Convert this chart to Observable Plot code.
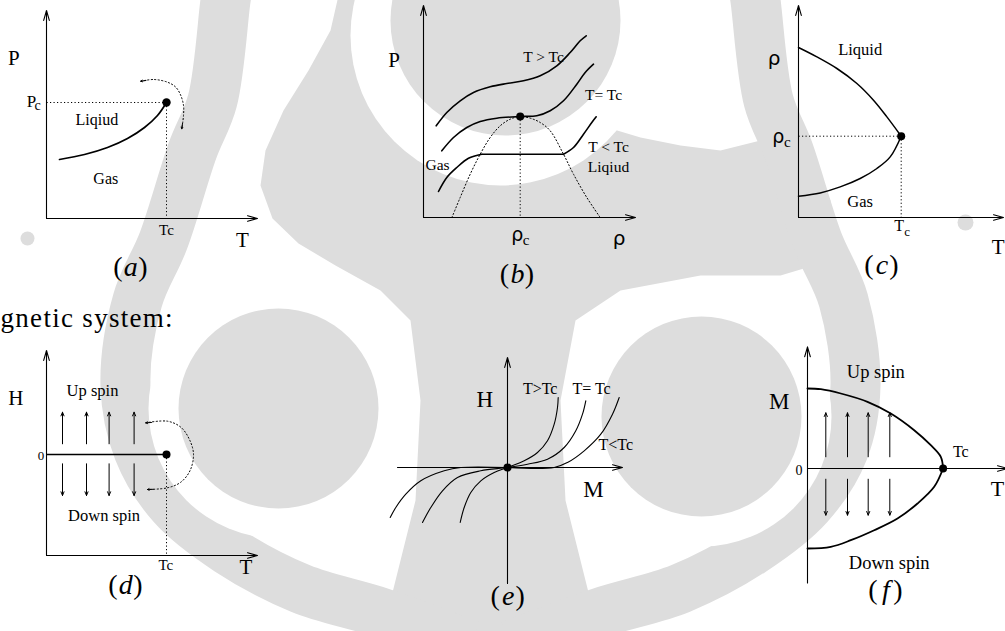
<!DOCTYPE html>
<html>
<head>
<meta charset="utf-8">
<script src="https://cdn.jsdelivr.net/npm/d3@7"></script>
<script src="https://cdn.jsdelivr.net/npm/@observablehq/plot@0.6"></script>
<style>
  html, body { margin: 0; padding: 0; background: #fff; }
  #page { position: relative; width: 1005px; height: 631px; overflow: hidden; }
  #page svg { position: absolute; overflow: visible; }
  #page svg.logo text { letter-spacing: 1.3px; }
</style>
</head>
<body>
<div id="page"></div>
<script>
const SERIF = "Liberation Serif";
const SANS = "DejaVu Sans";
const INK = "#000";
const WASH = "#dddddd";
const U = 10; // pixels per schematic unit inside every panel

// ---------- (a) P–T plane of a fluid ----------
const aAxisTop = 20.8, aAxisRight = 21.1;
const aCrit = [12.0, 11.6];                     // (Tc, Pc)
const aBoundary = [[1.3,5.9],[3.8,6.4],[6.1,7.1],[8.1,8.0],[9.8,9.1],[11.1,10.3],[12.0,11.6]];
const aDetour = [[9.43,13.73],[10.73,13.9],[12.1,13.63],[12.93,13.13],[13.43,12.3],[13.7,11.3],[13.7,10.3],[13.53,8.97]];
const aLabels = [
  {text: "Liqiud", x: 5.03, y: 9.9},
  {text: "Gas", x: 5.93, y: 4.0}
];

// ---------- (b) P–ρ isotherms ----------
const bAxisTop = 21.2, bAxisRight = 21.2;
const bCrit = [9.67, 10.1];                     // (ρc, Pc)
const bCoexistence = [[2.84,0],[3.67,2.0],[4.67,4.33],[5.67,6.33],[6.67,8.0],[7.67,9.17],[8.67,9.83],[9.67,10.1],
  [10.67,9.93],[11.67,9.5],[12.67,8.67],[14.0,6.33],[15.0,4.33],[16.33,2.0],[17.67,0]];
const bAbove = [[1.27,9.17],[2.33,10.5],[3.67,11.67],[5.0,12.5],[6.67,13.07],[8.33,13.4],[10.0,13.67],
  [11.67,14.17],[13.33,15.17],[14.67,16.5],[15.67,17.67],[16.27,18.17]];
const bCritical = [[1.83,6.67],[3.0,8.0],[4.33,9.0],[5.67,9.6],[7.33,9.93],[9.67,10.1],[11.33,10.17],
  [12.67,10.67],[14.0,11.67],[15.33,13.33],[16.17,14.5],[17.0,15.33]];
const bBelowGas = [[1.5,2.6],[2.33,4.0],[3.33,5.0],[4.5,5.93],[5.83,6.33]];
const bBelowLiquid = [[14.0,6.33],[15.0,7.0],[16.0,8.33],[16.83,9.5],[17.27,10.07]];
const bLabels = [
  {text: "T > Tc", x: 12.0, y: 16.0},
  {text: "T= Tc", x: 18.0, y: 12.23},
  {text: "T < Tc", x: 18.5, y: 7.0},
  {text: "Liqiud", x: 18.5, y: 5.0},
  {text: "Gas", x: 1.4, y: 5.27}
];

// ---------- (c) ρ–T coexistence curve ----------
const cAxisTop = 21.2, cAxisRight = 20.5;
const cCrit = [10.27, 8.13];                    // (Tc, ρc)
const cLiquid = [[0,17.0],[1.84,16.06],[3.84,14.9],[5.84,13.4],[7.5,11.73],[8.84,10.06],[10.27,8.13]];
const cGas = [[0,2.13],[2.17,2.46],[4.17,3.06],[6.17,3.9],[7.84,4.9],[9.17,6.06],[10.27,8.13]];
const cLabels = [
  {text: "Liquid", x: 6.17, y: 16.73},
  {text: "Gas", x: 6.17, y: 1.56}
];

// ---------- (d) H–T plane of a magnet ----------
const dAxisTop = 10.4, dAxisBottom = -10.1, dAxisRight = 21.1;
const dTc = 12.0;
const dSpinT = [1.6, 4.0, 6.26, 8.76];
const dUp = [1.07, 4.23], dDown = [-0.93, -4.1];
const dDetour = [[9.93,3.17],[12.1,3.33],[13.43,2.73],[14.26,1.57],[14.7,0.07],[14.36,-1.6],[13.43,-2.77],[12.1,-3.33],[10.1,-3.5]];
const dLabels = [
  {text: "Up spin", x: 4.6, y: 6.4},
  {text: "Down spin", x: 5.76, y: -6.1}
];

// ---------- (e) H–M isotherms ----------
const eAxis = {left: -11.0, right: 11.5, bottom: -11.6, top: 11.0};
const eAbove = [[-4.73,-5.5],[-4.33,-4.0],[-3.67,-2.5],[-2.67,-1.33],[-1.33,-0.5],[0,0],
  [1.67,0.67],[3.0,1.5],[4.0,2.67],[4.67,4.33],[5.0,6.0],[5.07,7.0]];
const eCritical = [[-8.5,-5.5],[-7.67,-4.0],[-6.5,-2.33],[-5.0,-1.0],[-2.67,-0.33],[0,0],
  [2.0,0.33],[4.0,0.83],[5.67,2.0],[6.83,3.67],[7.5,5.33],[7.83,6.67]];
const eBelowLeft = [[-11.73,-5.0],[-11.17,-4.0],[-10.17,-2.67],[-8.67,-1.33],[-6.33,-0.33],[-4.67,0],[0,0]];
const eBelowRight = [[0,0],[4.67,0],[6.0,0.5],[7.67,1.67],[9.33,3.33],[10.5,5.33],[11.17,7.0]];
const eLabels = [
  {text: "T>Tc", x: 3.27, y: 7.83},
  {text: "T= Tc", x: 8.4, y: 7.83},
  {text: "T<Tc", x: 10.83, y: 2.27}
];

// ---------- (f) M–T spontaneous magnetisation ----------
const fAxisTop = 12.16, fAxisBottom = -11.44, fAxisRight = 20.0;
const fTc = 13.56;
const fUpper = [[0,8.0],[1.33,7.93],[3.33,7.5],[6.0,6.67],[8.33,5.5],[10.67,3.83],[12.33,2.33],[13.33,1.17],[13.56,0]];
const fLower = [[0,-8.0],[2.33,-7.83],[4.33,-7.17],[6.67,-6.17],[9.0,-5.0],[11.0,-3.5],[12.67,-1.83],[13.56,0]];
const fSpinT = [1.83, 4.0, 6.07, 8.23];
const fUp = [1.17, 5.57], fDown = [-1.07, -4.67];
const fLabels = [
  {text: "Up spin", x: 6.83, y: 9.67},
  {text: "Down spin", x: 8.17, y: -9.5}
];

// ---------- institute emblem washed into the background (page pixels) ----------
const logoHeads = [
  {cx: 505, cy: 20, r: 115},
  {cx: 278, cy: 408, r: 100},
  {cx: 701, cy: 416, r: 100}
];
const logoGaps = [
  {cx: 500, cy: 35, r: 150},
  {cx: 278, cy: 408, r: 130},
  {cx: 701, cy: 416, r: 130}
];
const logoBody = [[338,-5],[330,30],[308,70],[283,110],[265,150],[260,185],[272,218],[298,243],[335,265],
  [380,290],[410,320],[420,400],[415,500],[400,560],[380,640],[600,640],[580,560],[565,500],[560,400],
  [575,320],[620,290],[700,275],[780,275],[830,260],[830,200],[800,140],[760,140],[720,150],[680,145],
  [640,137],[600,125],[575,100],[560,-5]];
const logoArms = [
  [[228,-20],[225,0],[212,100],[192,150],[163,240],[137,300],[125,385],[138,450],[172,505],[228,550],[300,588],[380,612],[470,645]],
  [[752,-20],[755,0],[768,100],[788,150],[817,240],[843,300],[855,385],[843,450],[808,505],[752,550],[680,588],[600,612],[510,645]]
];
const logoSeals = [
  {cx: 27, cy: 238, r: 7},
  {cx: 965, cy: 222, r: 8}
];

// ---------- drawing helpers ----------
const page = document.getElementById("page");
const xy = {x: d => d[0], y: d => d[1]};
const seg = {x1: "x1", y1: "y1", x2: "x2", y2: "y2"};

function panel({ox, oy, xd, yd, marks}) {
  const svg = Plot.plot({
    width: (xd[1] - xd[0]) * U,
    height: (yd[1] - yd[0]) * U,
    margin: 0,
    x: {domain: xd},
    y: {domain: yd},
    axis: null,
    style: {background: "transparent", overflow: "visible", fontFamily: SERIF},
    marks
  });
  svg.style.left = (ox + xd[0] * U) + "px";
  svg.style.top = (oy - yd[1] * U) + "px";
  page.append(svg);
}
const axes = (segs) => Plot.arrow(segs, {...seg, stroke: INK, strokeWidth: 1.1, headLength: 14, headAngle: 32});
const plain = (segs, w = 1.1) => Plot.link(segs, {...seg, stroke: INK, strokeWidth: w});
const dotted = (segs) => Plot.link(segs, {...seg, stroke: INK, strokeWidth: 1, strokeDasharray: "1.2,2.3"});
const curve = (pts, w = 1.6) => Plot.line(pts, {...xy, curve: "catmull-rom", stroke: INK, strokeWidth: w});
const detour = (pts) => Plot.line(pts, {...xy, curve: "catmull-rom", stroke: INK, strokeWidth: 1, strokeDasharray: "1.2,2.3"});
const tip = (segs) => Plot.arrow(segs, {...seg, stroke: INK, strokeWidth: 1, headLength: 6, headAngle: 55});
const spins = (segs) => Plot.arrow(segs, {...seg, stroke: INK, strokeWidth: 1, headLength: 6, headAngle: 45});
const crit = (pt, r = 4) => Plot.dot([pt], {...xy, r, fill: INK, stroke: "none"});
const words = (rows, size, family = SERIF, extra = {}) =>
  Plot.text(rows, {x: "x", y: "y", text: "text", fontSize: size, fontFamily: family, fill: INK,
    textAnchor: "middle", lineAnchor: "middle", ...extra});
const word = (text, x, y, size, family = SERIF, extra = {}) => words([{text, x, y}], size, family, extra);
const tag = (letter, x, y) => [
  word("(", x, y, 28, SERIF, {dx: -13}),
  word(letter, x, y, 28, SERIF, {fontStyle: "italic"}),
  word(")", x, y, 28, SERIF, {dx: 12})
];

// ---------- background emblem ----------
const logo = Plot.plot({
  width: 1005, height: 631, margin: 0,
  x: {domain: [0, 1005]}, y: {domain: [631, 0]}, r: {type: "identity"},
  axis: null,
  className: "logo",
  style: {background: "transparent", overflow: "visible", fontFamily: SERIF},
  marks: [
    Plot.line(logoBody, {...xy, fill: WASH, stroke: "none", curve: "linear-closed"}),
    ...logoArms.map(arm => Plot.line(arm, {...xy, curve: "catmull-rom", stroke: WASH, strokeWidth: 50, strokeLinecap: "butt"})),
    Plot.dot(logoGaps, {x: "cx", y: "cy", r: "r", fill: "#ffffff", stroke: "none"}),
    Plot.dot(logoHeads, {x: "cx", y: "cy", r: "r", fill: WASH, stroke: "none"}),
    Plot.dot(logoSeals, {x: "cx", y: "cy", r: "r", fill: WASH, stroke: "none"}),
    Plot.text(["gnetic system:"], {x: 0, y: 318, text: d => d, fontSize: 27, fontFamily: SERIF,
      textAnchor: "start", lineAnchor: "middle", fill: INK})
  ]
});
logo.style.left = "0px"; logo.style.top = "0px";
page.append(logo);

// ---------- (a) ----------
panel({ox: 45.7, oy: 218, xd: [-4.5, 21.5], yd: [-7, 21.8], marks: [
  axes([{x1: 0, y1: 0, x2: 0, y2: aAxisTop}, {x1: 0, y1: 0, x2: aAxisRight, y2: 0}]),
  dotted([{x1: 0, y1: aCrit[1], x2: aCrit[0], y2: aCrit[1]}, {x1: aCrit[0], y1: aCrit[1], x2: aCrit[0], y2: 0}]),
  curve(aBoundary, 1.7),
  detour(aDetour),
  tip([{x1: 9.95, y1: 13.8, x2: aDetour[0][0], y2: aDetour[0][1]},
       {x1: 13.6, y1: 9.5, x2: aDetour[aDetour.length - 1][0], y2: aDetour[aDetour.length - 1][1]}]),
  crit(aCrit, 4.2),
  word("P", -3.27, 16.0, 21),
  word("P", -1.49, 11.7, 17),
  word("c", -0.9, 11.3, 14),
  word("Tc", aCrit[0], -1.2, 15),
  word("T", 19.6, -2.2, 21),
  words(aLabels, 16),
  ...tag("a", 8.43, -4.9)
]});

// ---------- (b) ----------
panel({ox: 423.3, oy: 216.7, xd: [-4, 22], yd: [-7.5, 21.7], marks: [
  axes([{x1: 0, y1: 0, x2: 0, y2: bAxisTop}, {x1: 0, y1: 0, x2: bAxisRight, y2: 0}]),
  Plot.line(bCoexistence, {...xy, curve: "catmull-rom", stroke: INK, strokeWidth: 1, strokeDasharray: "1.2,2.3"}),
  dotted([{x1: bCrit[0], y1: bCrit[1], x2: bCrit[0], y2: 0}]),
  curve(bAbove),
  curve(bCritical),
  curve(bBelowGas),
  plain([{x1: bBelowGas[bBelowGas.length - 1][0], y1: bBelowGas[bBelowGas.length - 1][1],
          x2: bBelowLiquid[0][0], y2: bBelowLiquid[0][1]}], 1.6),
  curve(bBelowLiquid),
  crit(bCrit, 4),
  word("P", -2.93, 15.77, 21),
  word("ρ", 19.55, -2.08, 20, SANS),
  word("ρ", 9.39, -1.75, 19, SANS),
  word("c", 10.27, -2.25, 15),
  words(bLabels, 15.5),
  ...tag("b", 9.4, -5.67)
]});

// ---------- (c) ----------
panel({ox: 798.3, oy: 217.3, xd: [-4, 21], yd: [-6, 21.7], marks: [
  axes([{x1: 0, y1: 0, x2: 0, y2: cAxisTop}, {x1: 0, y1: 0, x2: cAxisRight, y2: 0}]),
  dotted([{x1: 0, y1: cCrit[1], x2: cCrit[0], y2: cCrit[1]}, {x1: cCrit[0], y1: cCrit[1], x2: cCrit[0], y2: 0}]),
  curve(cLiquid, 1.5),
  curve(cGas, 1.5),
  crit(cCrit, 4),
  word("ρ", -2.45, 15.9, 20, SANS),
  word("ρ", -2.03, 8.06, 19, SANS),
  word("c", -1.11, 7.56, 15),
  word("T", 10.07, -0.85, 16),
  word("c", 10.87, -1.44, 13),
  word("T", 19.97, -2.97, 21),
  words(cLabels, 16.5),
  ...tag("c", 8.34, -4.77)
]});

// ---------- (d) ----------
panel({ox: 45.7, oy: 454, xd: [-4.5, 21.5], yd: [-15, 11], marks: [
  axes([{x1: 0, y1: dAxisBottom, x2: 0, y2: dAxisTop}, {x1: 0, y1: dAxisBottom, x2: dAxisRight, y2: dAxisBottom}]),
  plain([{x1: 0, y1: 0, x2: dTc, y2: 0}], 1.6),
  dotted([{x1: dTc, y1: 0, x2: dTc, y2: dAxisBottom}]),
  spins(dSpinT.map(t => ({x1: t, y1: dUp[0], x2: t, y2: dUp[1]}))),
  spins(dSpinT.map(t => ({x1: t, y1: dDown[0], x2: t, y2: dDown[1]}))),
  detour(dDetour),
  tip([{x1: 10.5, y1: 3.2, x2: dDetour[0][0], y2: dDetour[0][1]},
       {x1: 10.65, y1: -3.48, x2: dDetour[dDetour.length - 1][0], y2: dDetour[dDetour.length - 1][1]}]),
  crit([dTc, 0], 4),
  word("H", -3.07, 5.6, 21),
  word("0", -0.55, -0.1, 13),
  word("Tc", 11.93, -11.1, 15),
  word("T", 19.93, -11.3, 21),
  words(dLabels, 16.5),
  ...tag("d", 7.93, -13.1)
]});

// ---------- (e) ----------
panel({ox: 506.7, oy: 466.7, xd: [-12.5, 13], yd: [-15, 11.5], marks: [
  axes([{x1: 0, y1: eAxis.bottom, x2: 0, y2: eAxis.top}, {x1: eAxis.left, y1: 0, x2: eAxis.right, y2: 0}]),
  curve(eAbove, 1.1),
  curve(eCritical, 1.1),
  curve(eBelowLeft, 1.1),
  curve(eBelowRight, 1.1),
  crit([0, 0], 4),
  word("H", -2.27, 6.83, 23),
  word("M", 8.6, -2.17, 23),
  words(eLabels, 16),
  ...tag("e", 0.07, -12.83)
]});

// ---------- (f) ----------
panel({ox: 806.7, oy: 468.3, xd: [-4, 20.5], yd: [-14, 12.5], marks: [
  axes([{x1: 0, y1: fAxisBottom, x2: 0, y2: fAxisTop}, {x1: 0, y1: 0, x2: fAxisRight, y2: 0}]),
  curve(fUpper, 1.8),
  curve(fLower, 1.8),
  spins(fSpinT.map(t => ({x1: t, y1: fUp[0], x2: t, y2: fUp[1]}))),
  spins(fSpinT.map(t => ({x1: t, y1: fDown[0], x2: t, y2: fDown[1]}))),
  crit([fTc, 0], 4),
  word("M", -2.83, 6.67, 23),
  word("0", -0.84, -0.17, 14),
  word("Tc", 15.33, 1.67, 16),
  word("T", 19.0, -2.0, 22),
  words(fLabels, 18.5),
  ...tag("f", 7.83, -12.17)
]});
</script>
</body>
</html>
